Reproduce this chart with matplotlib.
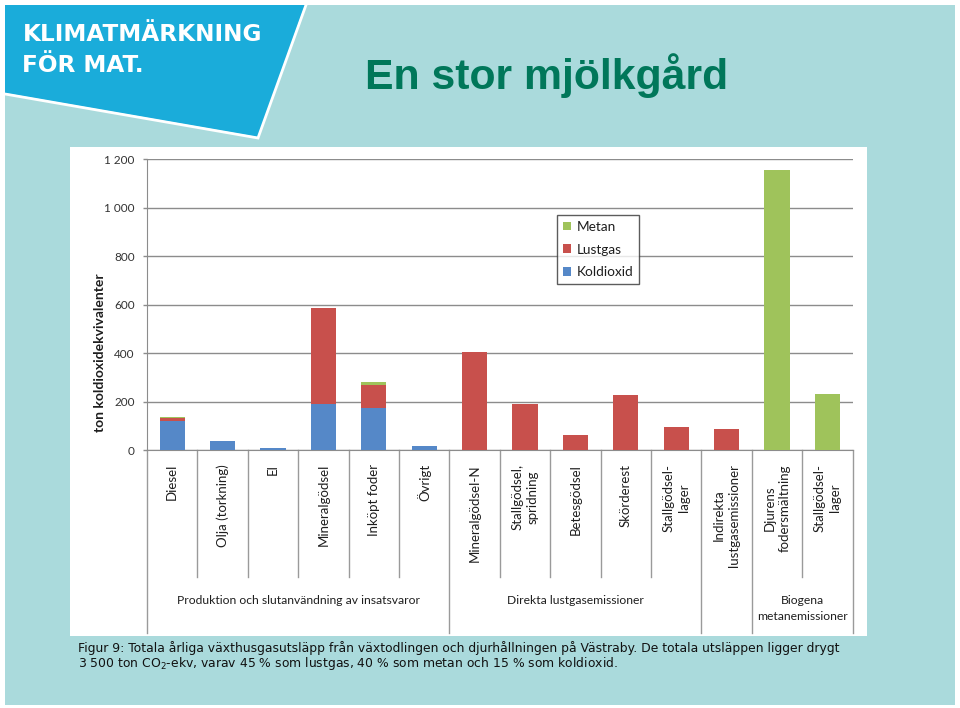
import matplotlib
matplotlib.use('Agg')
import matplotlib.pyplot as plt
from matplotlib.patches import Polygon, Rectangle, Patch
import matplotlib.transforms as mtransforms
import numpy as np

# ---------------- data ----------------
categories = ["Diesel", "Olja (torkning)", "El", "Mineralgödsel", "Inköpt foder", "Övrigt",
              "Mineralgödsel-N", "Stallgödsel,\nspridning", "Betesgödsel", "Skörderest",
              "Stallgödsel-\nlager", "Indirekta\nlustgasemissioner",
              "Djurens\nfodersmältning", "Stallgödsel-\nlager"]
koldioxid = [120, 38, 8, 192, 173, 19, 0, 0, 0, 0, 0, 0, 0, 0]
lustgas = [14, 0, 0, 395, 96, 0, 407, 191, 64, 228, 97, 89, 0, 0]
metan = [5, 0, 0, 0, 13, 0, 0, 0, 0, 0, 0, 0, 1153, 231]
yticks = [0, 200, 400, 600, 800, 1000, 1200]
ytick_labels = ["0", "200", "400", "600", "800", "1 000", "1 200"]
group_names = ["Produktion och slutanvändning av insatsvaror", "Direkta lustgasemissioner",
               "", "Biogena\nmetanemissioner"]
group_bounds = [0, 6, 11, 12, 14]
legend_labels = ["Metan", "Lustgas", "Koldioxid"]
title = "En stor mjölkgård"
ylabel = "ton koldioxidekvivalenter"
caption1 = ("Figur 9: Totala årliga växthusgasutsläpp från växtodlingen och djurhållningen "
            "på Västraby. De totala utsläppen ligger drygt")
caption2 = ("3 500 ton CO$_2$-ekv, varav 45 % som lustgas, 40 % som metan och 15 % som koldioxid.")

# ---------------- style ----------------
TEAL = "#AADADC"
LOGO_BLUE = "#1AACDA"
TITLE_GREEN = "#00775A"
C_BLUE = "#5588C8"
C_RED = "#C8504C"
C_GREEN = "#9FC35B"
GRID = "#8C8C8C"
SEP = "#9A9A9A"
TXT = "#1e1e1e"

W, H = 960, 708
fig = plt.figure(figsize=(9.6, 7.08), dpi=100)
fig.patch.set_facecolor("white")

bg = fig.add_axes([0, 0, 1, 1])
bg.set_xlim(0, W)
bg.set_ylim(H, 0)
bg.axis("off")
bg.add_patch(Rectangle((5, 5), 950, 700, fc=TEAL, ec="none"))
bg.add_patch(Polygon([(5, 5), (305, 5), (258, 137), (5, 93)], closed=True, fc=LOGO_BLUE, ec="none"))
bg.plot([5, 258, 306], [94, 138, 5], color="white", lw=2.0, solid_joinstyle="miter")
bg.text(22.5, 41, "KLIMATMÄRKNING", color="white", fontsize=16.7, fontweight="bold",
        family="DejaVu Sans", va="baseline", ha="left")
bg.text(22.5, 72, "FÖR MAT.", color="white", fontsize=16.7, fontweight="bold",
        family="DejaVu Sans", va="baseline", ha="left")
bg.text(546.5, 89.5, title, ha="center", va="baseline", fontsize=30.8, fontweight="bold",
        color=TITLE_GREEN, family="Liberation Sans")
bg.add_patch(Rectangle((70, 147), 797, 489, fc="white", ec="none"))

y0_px, y1_px = 450.3, 159.0
x0_px, x1_px = 147.0, 852.6
ax = fig.add_axes([x0_px / W, (H - y0_px) / H, (x1_px - x0_px) / W, (y0_px - y1_px) / H])
ax.patch.set_visible(False)

x = np.arange(len(categories))
k = np.array(koldioxid)
l = np.array(lustgas)
m = np.array(metan)
ax.bar(x, k, 0.5, color=C_BLUE, zorder=3)
ax.bar(x, l, 0.5, bottom=k, color=C_RED, zorder=3)
ax.bar(x, m, 0.5, bottom=k + l, color=C_GREEN, zorder=3)

ax.set_xlim(-0.5, len(categories) - 0.5)
ax.set_ylim(0, 1200)
ax.set_yticks(yticks)
ax.set_yticklabels(ytick_labels, fontsize=8.5, family="Lato", color="#333333")
ax.yaxis.grid(True, color=GRID, lw=1.0, zorder=0)
ax.set_axisbelow(True)
ax.set_xticks([])
ax.tick_params(axis="y", length=2.9, color=GRID, pad=6.0, width=1.0)
for s in ["top", "right"]:
    ax.spines[s].set_visible(False)
ax.spines["left"].set_color(GRID)
ax.spines["bottom"].set_color(GRID)

blend = mtransforms.blended_transform_factory(ax.transData, bg.transData)
for i, lab in enumerate(categories):
    ax.text(i, 464, lab, transform=blend, rotation=90, ha="center", va="top",
            multialignment="center", fontsize=9.5, family="Lato", color=TXT, linespacing=1.3)

for b in range(len(categories) + 1):
    xb = b - 0.5
    ybot = 633 if b in group_bounds else 577
    ax.plot([xb, xb], [y0_px, ybot], transform=blend, color=SEP, lw=1.0, clip_on=False)

for j, name in enumerate(group_names):
    if not name:
        continue
    xc = (group_bounds[j] + group_bounds[j + 1]) / 2 - 0.5
    ax.text(xc, 595, name, transform=blend, ha="center", va="top", fontsize=8.7,
            family="Lato", color=TXT, linespacing=1.6)

handles = [Patch(fc=C_GREEN, ec="none"), Patch(fc=C_RED, ec="none"), Patch(fc=C_BLUE, ec="none")]
leg = ax.legend(handles, legend_labels, loc="upper left",
                bbox_to_anchor=((557 - x0_px) / (x1_px - x0_px), (y0_px - 215) / (y0_px - y1_px)),
                borderaxespad=0, frameon=True, fancybox=False, edgecolor="#333333",
                prop={"family": "Lato", "size": 9.8}, handlelength=0.62, handleheight=0.62,
                handletextpad=0.4, labelspacing=0.8, borderpad=0.42)
leg.get_frame().set_linewidth(1.0)
for t in leg.get_texts():
    t.set_color(TXT)

bg.text(100, 352.5, ylabel, rotation=90, ha="center", va="center", fontsize=10,
        fontweight="bold", family="Lato", color=TXT)

c1 = bg.text(78, 648, caption1, ha="left", va="center", family="DejaVu Sans", fontsize=8, color="#111111")
c2 = bg.text(78, 664, caption2, ha="left", va="center", family="DejaVu Sans", fontsize=8, color="#111111")
fig.canvas.draw()
w = c1.get_window_extent().width
fs = 8 * 767.0 / w
c1.set_fontsize(fs)
c2.set_fontsize(fs)

fig.savefig("out.png", dpi=100)
